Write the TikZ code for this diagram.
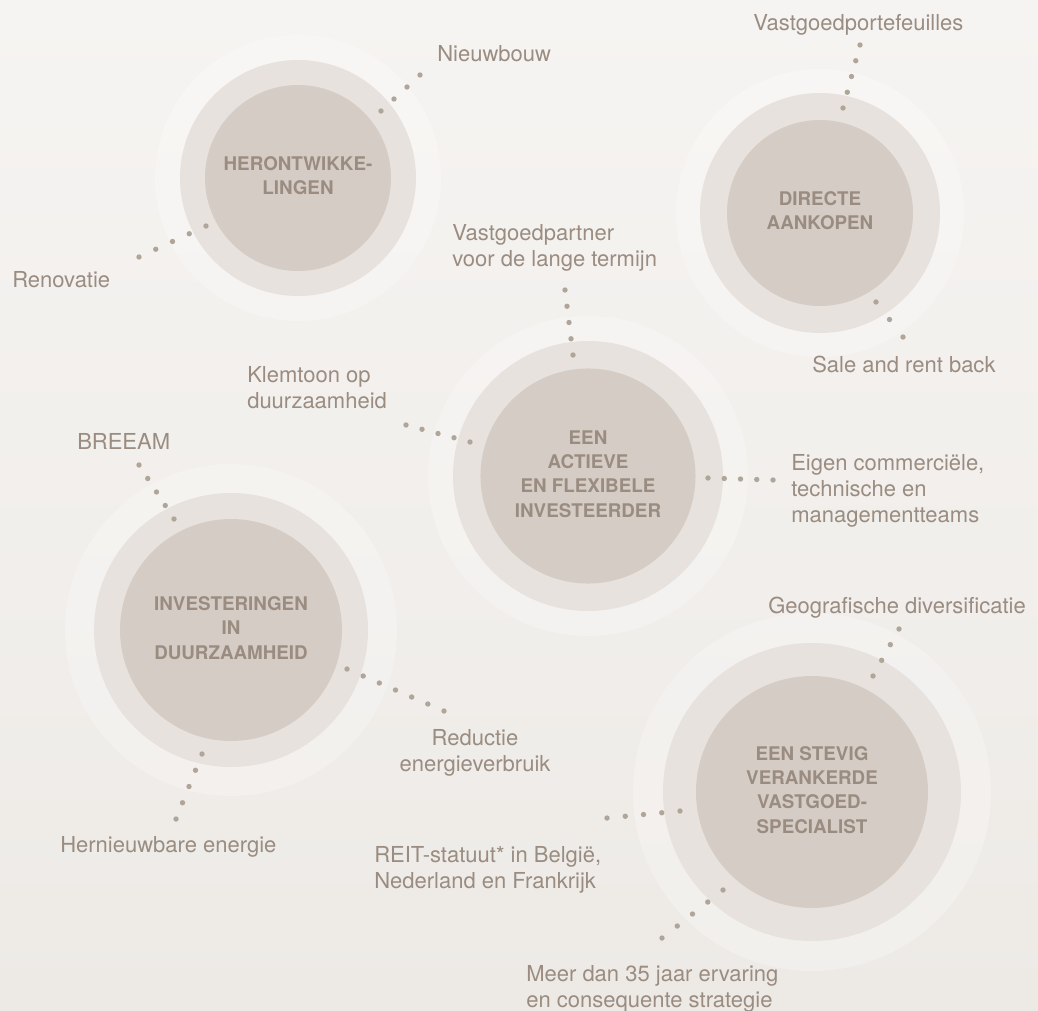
\documentclass[tikz,border=0pt]{standalone}
\usepackage{fontspec}
\setmainfont{TeX Gyre Heros}
\usepackage{xcolor}
\usepackage{tikz}
\usetikzlibrary{calc}

\definecolor{bgtop}{HTML}{F6F4F2}
\definecolor{bgbot}{HTML}{EDEAE6}
\definecolor{ringmid}{HTML}{E7E2DD}
\definecolor{ringin}{HTML}{D5CDC5}
\definecolor{inktxt}{HTML}{9A8C80}
\definecolor{inkdot}{HTML}{B0A599}

\begin{document}
\begin{tikzpicture}[x=0.75pt, y=-0.75pt]
    \tikzstyle{hub}=[circle, fill=ringin, text=inktxt, inner sep=0pt, font=\fontsize{14.1}{18.2}\selectfont\bfseries]
    \tikzstyle{halo}=[fill=white, opacity=0.26]
    \tikzstyle{band}=[fill=ringmid]
    \tikzstyle{tag}=[text=inktxt, inner sep=0pt, font=\fontsize{16.5}{19.5}\selectfont]
    \tikzstyle{pip}=[fill=inkdot]

    \useasboundingbox (0,0) rectangle (1038,1010);
    \shade[top color=bgtop, bottom color=bgbot] (0,0) rectangle (1038,1010);

    \coordinate (c-heron) at (298,178);
    \coordinate (c-direct) at (820,213);
    \coordinate (c-actief) at (588,476);
    \coordinate (c-duurz) at (231,630);
    \coordinate (c-stevig) at (812,792);

    \foreach \c/\rout/\rmid in {c-heron/143/118, c-direct/144/120, c-actief/160/135, c-duurz/166/137, c-stevig/179/149} {
      \fill[halo] (\c) circle (\rout);
      \fill[band] (\c) circle (\rmid);
    }

    \node[hub, minimum size=139.5pt] (heron) at (c-heron) {\begin{tabular}{@{}c@{}}HERONTWIKKE-\\LINGEN\end{tabular}};
    \node[hub, minimum size=139.5pt] (direct) at (c-direct) {\begin{tabular}{@{}c@{}}DIRECTE\\AANKOPEN\end{tabular}};
    \node[hub, minimum size=161.3pt] (actief) at (c-actief) {\raisebox{8pt}{\begin{tabular}{@{}c@{}}EEN\\ACTIEVE\\EN FLEXIBELE\\INVESTEERDER\end{tabular}}};
    \node[hub, minimum size=166.5pt] (duurz) at (c-duurz) {\begin{tabular}{@{}c@{}}INVESTERINGEN\\IN\\DUURZAAMHEID\end{tabular}};
    \node[hub, minimum size=174pt] (stevig) at (c-stevig) {\begin{tabular}{@{}c@{}}EEN STEVIG\\VERANKERDE\\VASTGOED-\\SPECIALIST\end{tabular}};

    \node[tag, anchor=base west] (nieuw) at (437,61) {Nieuwbouw};
    \node[tag, anchor=base west] (renov) at (12,287) {Renovatie};
    \node[tag, anchor=base west] (vport) at (753,30) {Vastgoedportefeuilles};
    \node[tag, anchor=base west] (sale) at (812,372) {Sale and rent back};
    \node[tag, anchor=base west] (vpartner) at (452,240) {\begin{tabular}[t]{@{}l@{}}Vastgoedpartner\\voor de lange termijn\end{tabular}};
    \node[tag, anchor=base west] (klem) at (247,382) {\begin{tabular}[t]{@{}l@{}}Klemtoon op\\duurzaamheid\end{tabular}};
    \node[tag, anchor=base west] (eigen) at (791,470) {\begin{tabular}[t]{@{}l@{}}Eigen commerciële,\\technische en\\managementteams\end{tabular}};
    \node[tag, anchor=base west] (breeam) at (77,449) {BREEAM};
    \node[tag, anchor=base] (reduct) at (475,745) {\begin{tabular}[t]{@{}c@{}}Reductie\\energieverbruik\end{tabular}};
    \node[tag, anchor=base west] (hernieuw) at (60,852) {Hernieuwbare energie};
    \node[tag, anchor=base west] (geo) at (768,613) {Geografische diversificatie};
    \node[tag, anchor=base west] (reit) at (374,862) {\begin{tabular}[t]{@{}l@{}}REIT-statuut* in België,\\Nederland en Frankrijk\end{tabular}};
    \node[tag, anchor=base west] (meer) at (526,981) {\begin{tabular}[t]{@{}l@{}}Meer dan 35 jaar ervaring\\en consequente strategie\end{tabular}};

    % dotted leaders
    \coordinate (nieuw-a) at (381,111);    \coordinate (nieuw-b) at (420,75);
    \coordinate (renov-a) at (206,226);    \coordinate (renov-b) at (139,257);
    \coordinate (vport-a) at (843,108);    \coordinate (vport-b) at (860,45);
    \coordinate (sale-a) at (876,302);     \coordinate (sale-b) at (903,337);
    \coordinate (vpartner-a) at (573,355); \coordinate (vpartner-b) at (565,290);
    \coordinate (klem-a) at (470,442);     \coordinate (klem-b) at (406,425);
    \coordinate (eigen-a) at (708,478);    \coordinate (eigen-b) at (773,480);
    \coordinate (breeam-a) at (174,519);   \coordinate (breeam-b) at (139,465);
    \coordinate (reduct-a) at (347,669);   \coordinate (reduct-b) at (444,711);
    \coordinate (hernieuw-a) at (202,754); \coordinate (hernieuw-b) at (176,819);
    \coordinate (geo-a) at (873,676);      \coordinate (geo-b) at (899,629);
    \coordinate (reit-a) at (680,811);     \coordinate (reit-b) at (607,818);
    \coordinate (meer-a) at (723,890);     \coordinate (meer-b) at (662,938);

    \foreach \from/\to/\n in {nieuw-a/nieuw-b/3, renov-a/renov-b/4, vport-a/vport-b/4, sale-a/sale-b/2,
        vpartner-a/vpartner-b/4, klem-a/klem-b/4, eigen-a/eigen-b/4, breeam-a/breeam-b/4,
        reduct-a/reduct-b/6, hernieuw-a/hernieuw-b/4, geo-a/geo-b/3, reit-a/reit-b/4, meer-a/meer-b/4}
      \foreach \i in {0,...,\n}
        \fill[pip] ($(\from)!{\i/\n}!(\to)$) circle (2.7);

\end{tikzpicture}
\end{document}
